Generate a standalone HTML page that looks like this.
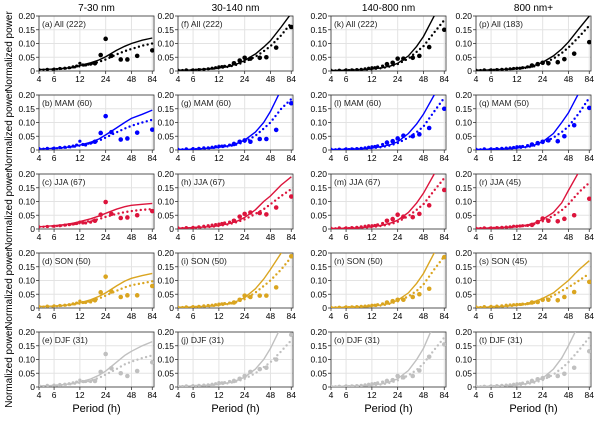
<!DOCTYPE html>
<html><head><meta charset="utf-8"><style>
body{margin:0;background:#fff;}
svg text{font-family:"Liberation Sans","DejaVu Sans",sans-serif;}
</style></head><body>
<svg id="chart" width="600" height="421" xmlns="http://www.w3.org/2000/svg"></svg>
<script>
const linePeriods=[4,6,8,10,12,16,20,24,32,40,48,64,84];
const scatterPeriods=[4,5,6,7,8,9,10,11,12,13,14,16,18,21,24,28,36,43,56,84];
const xTicks=[4,6,12,24,48,84];
const yTicks=[0,0.05,0.10,0.15,0.20];
const yTickLabels=["0","0.05","0.10","0.15","0.20"];
const colTitles=["7-30 nm","30-140 nm","140-800 nm","800 nm+"];
const seasons=["All","MAM","JJA","SON","DJF"];
const seasonColors=["#000000","#0000ff","#dc143c","#daa520","#c0c0c0"];
const panelCounts=[[222,60,67,50,31],[222,60,67,50,31],[222,60,67,50,31],[183,50,45,45,31]];
const c1Solid=[[.005,.007,.010,.014,.020,.030,.040,.052,.075,.090,.100,.112,.120],[.004,.006,.009,.013,.018,.028,.040,.055,.080,.100,.115,.130,.145],[.008,.012,.016,.021,.027,.037,.047,.057,.072,.081,.086,.090,.093],[.005,.007,.010,.014,.019,.030,.042,.055,.080,.098,.108,.118,.126],[.004,.006,.009,.013,.018,.029,.043,.058,.090,.115,.130,.150,.165]];
const c1Dotted=[[.004,.006,.009,.012,.017,.025,.033,.042,.060,.072,.080,.092,.100],[.004,.006,.008,.011,.016,.025,.034,.045,.064,.078,.088,.100,.110],[.007,.010,.013,.017,.021,.029,.036,.044,.055,.061,.065,.070,.072],[.004,.006,.009,.012,.016,.025,.034,.045,.062,.075,.083,.090,.097],[.003,.005,.008,.011,.015,.023,.033,.045,.065,.082,.092,.105,.115]];
const c1Scatter=[[.005,.006,.007,.009,.010,.012,.015,.018,.028,.022,.022,.025,.028,.058,.117,.055,.042,.042,.055,.075],[.005,.006,.007,.009,.010,.012,.014,.018,.032,.020,.018,.025,.030,.062,.123,.065,.038,.042,.063,.074],[.008,.009,.010,.012,.014,.016,.018,.020,.025,.022,.022,.025,.030,.052,.098,.055,.040,.042,.050,.065],[.006,.007,.008,.009,.010,.012,.015,.018,.025,.020,.020,.022,.028,.057,.114,.060,.040,.046,.046,.080],[.005,.006,.007,.009,.010,.012,.015,.018,.025,.020,.020,.020,.022,.055,.120,.068,.050,.040,.058,.090]];
const c2Solid=[[.003,.004,.006,.008,.011,.018,.027,.038,.062,.087,.110,.160,.210],[.002,.003,.005,.007,.010,.016,.025,.036,.065,.100,.140,.220,.30],[.003,.005,.007,.009,.012,.020,.030,.042,.070,.100,.120,.160,.190],[.003,.004,.006,.008,.010,.017,.026,.038,.070,.105,.140,.200,.25],[.003,.004,.005,.007,.010,.016,.025,.036,.065,.100,.140,.220,.30]];
const c2Dotted=[[.003,.004,.006,.008,.010,.016,.024,.033,.052,.072,.090,.130,.175],[.002,.003,.005,.007,.009,.014,.021,.030,.052,.078,.100,.150,.185],[.003,.004,.006,.008,.011,.018,.026,.035,.055,.072,.090,.120,.145],[.003,.004,.005,.007,.009,.015,.022,.032,.056,.080,.100,.140,.185],[.003,.004,.005,.007,.009,.014,.021,.030,.050,.072,.090,.130,.170]];
const c2Scatter=[[.003,.004,.004,.005,.006,.008,.010,.012,.015,.016,.017,.020,.028,.038,.048,.045,.048,.050,.085,.160],[.003,.004,.005,.006,.008,.008,.010,.012,.014,.014,.015,.018,.022,.030,.035,.030,.040,.040,.073,.170],[.004,.005,.006,.008,.010,.012,.014,.016,.018,.020,.022,.025,.030,.045,.055,.060,.058,.053,.078,.118],[.003,.004,.005,.006,.008,.009,.010,.012,.014,.015,.016,.018,.020,.030,.045,.040,.045,.045,.075,.188],[.003,.004,.005,.006,.007,.008,.010,.012,.016,.015,.016,.020,.022,.030,.040,.055,.065,.070,.100,.190]];
const c3Solid=[[.002,.003,.004,.005,.007,.012,.019,.028,.055,.090,.125,.200,.28],[.002,.003,.004,.005,.007,.013,.020,.030,.060,.095,.130,.200,.28],[.002,.003,.004,.006,.008,.014,.022,.032,.060,.095,.130,.200,.28],[.002,.003,.004,.005,.007,.012,.018,.028,.055,.090,.125,.200,.28],[.002,.003,.004,.005,.007,.012,.020,.030,.060,.100,.140,.230,.30]];
const c3Dotted=[[.002,.003,.004,.005,.006,.011,.017,.025,.045,.070,.090,.140,.185],[.002,.003,.004,.005,.006,.011,.017,.025,.045,.065,.085,.140,.190],[.002,.003,.004,.005,.007,.012,.018,.026,.047,.070,.090,.140,.185],[.002,.003,.004,.005,.006,.010,.016,.024,.042,.062,.085,.140,.188],[.002,.003,.004,.005,.006,.010,.016,.024,.042,.062,.085,.135,.180]];
const c3Scatter=[[.003,.003,.004,.004,.005,.006,.008,.010,.012,.012,.014,.018,.025,.030,.045,.045,.048,.055,.087,.150],[.003,.003,.004,.004,.005,.006,.008,.010,.012,.013,.015,.020,.027,.032,.042,.052,.050,.057,.080,.150],[.003,.004,.004,.005,.006,.008,.010,.012,.012,.013,.015,.020,.030,.036,.052,.045,.043,.055,.086,.142],[.003,.003,.004,.004,.005,.006,.007,.008,.010,.010,.012,.015,.020,.025,.030,.030,.040,.050,.070,.185],[.003,.003,.004,.004,.005,.006,.008,.010,.012,.013,.015,.018,.022,.025,.040,.035,.040,.060,.110,.155]];
const c4Solid=[[.003,.004,.005,.007,.009,.015,.022,.032,.055,.080,.105,.155,.200],[.002,.003,.004,.005,.007,.012,.020,.030,.060,.100,.135,.210,.28],[.003,.004,.005,.007,.009,.015,.023,.035,.060,.095,.140,.210,.28],[.003,.004,.006,.008,.010,.017,.025,.035,.055,.080,.100,.140,.172],[.002,.003,.004,.005,.007,.013,.021,.032,.065,.105,.150,.230,.30]];
const c4Dotted=[[.003,.004,.005,.006,.008,.012,.018,.026,.045,.065,.085,.125,.165],[.002,.003,.004,.005,.006,.011,.017,.025,.045,.065,.085,.135,.190],[.003,.004,.005,.006,.008,.013,.019,.028,.048,.068,.090,.135,.168],[.003,.004,.005,.007,.009,.014,.020,.028,.045,.062,.075,.100,.125],[.002,.003,.004,.005,.006,.011,.017,.025,.045,.068,.090,.135,.180]];
const c4Scatter=[[.003,.004,.004,.005,.006,.007,.008,.009,.010,.010,.012,.015,.020,.025,.030,.028,.032,.043,.063,.105],[.003,.004,.004,.005,.006,.007,.008,.009,.012,.012,.013,.016,.020,.025,.030,.035,.032,.050,.090,.153],[.003,.004,.004,.005,.006,.007,.008,.010,.010,.011,.012,.013,.015,.025,.038,.030,.028,.037,.050,.110],[.004,.005,.006,.007,.008,.010,.011,.012,.013,.013,.014,.016,.020,.022,.030,.030,.028,.040,.058,.095],[.003,.003,.004,.005,.006,.007,.008,.010,.012,.012,.014,.018,.022,.028,.032,.040,.040,.048,.070,.130]];

const solidByCol=[c1Solid,c2Solid,c3Solid,c4Solid];
const dottedByCol=[c1Dotted,c2Dotted,c3Dotted,c4Dotted];
const scatterByCol=[c1Scatter,c2Scatter,c3Scatter,c4Scatter];

const svg=document.getElementById('chart');
const NS='http://www.w3.org/2000/svg';
const colLeft=[39,178,331,476], W=115, H=55, rowTop=16, rowStep=79;
const xMin=4,xMax=88;
function mk(tag,attrs,parent){const e=document.createElementNS(NS,tag);for(const k in attrs)e.setAttribute(k,attrs[k]);(parent||svg).appendChild(e);return e;}
function xs(c,p){return colLeft[c]+W*Math.log(p/xMin)/Math.log(xMax/xMin);}
function ys(r,v){return rowTop+r*rowStep+H-H*v/0.2;}
const letters="abcdefghijklmnopqrst";
const defs=mk('defs',{});
for(let c=0;c<4;c++){
  const t=mk('text',{x:colLeft[c]+W/2,y:11,'text-anchor':'middle','font-size':10});
  t.textContent=colTitles[c];
  
  
  const xl=mk('text',{x:colLeft[c]+W/2,y:412,'text-anchor':'middle','font-size':11});
  xl.textContent='Period (h)';
  
  
  for(let r=0;r<5;r++){
    const top=rowTop+r*rowStep, L=colLeft[c];
    const cp=mk('clipPath',{id:'cp'+c+'_'+r},defs);
    mk('rect',{x:L,y:top,width:W,height:H},cp);
    const g=mk('g',{});
    
    
    for(const v of yTicks){mk('line',{x1:L,x2:L+W,y1:ys(r,v),y2:ys(r,v),stroke:'#e3e3e3','stroke-width':1},g);}
    for(const p of xTicks){mk('line',{x1:xs(c,p),x2:xs(c,p),y1:top,y2:top+H,stroke:'#e3e3e3','stroke-width':1},g);}
    const frame=mk('rect',{x:L,y:top,width:W,height:H,fill:'none',stroke:'#333','stroke-width':0.8},g);
    
    
    yTicks.forEach((v,i)=>{
      mk('line',{x1:L-3,x2:L,y1:ys(r,v),y2:ys(r,v),stroke:'#333','stroke-width':0.8},g);
      const tl=mk('text',{x:L-4,y:ys(r,v)+3,'text-anchor':'end','font-size':8.5},g);
      tl.textContent=yTickLabels[i];
      
      
    });
    xTicks.forEach(p=>{
      mk('line',{x1:xs(c,p),x2:xs(c,p),y1:top+H,y2:top+H+3,stroke:'#333','stroke-width':0.8},g);
      const tl=mk('text',{x:xs(c,p),y:top+H+11,'text-anchor':'middle','font-size':8.5},g);
      tl.textContent=String(p);
      
      
    });
    const lab=mk('text',{x:L+3,y:top+11,'font-size':8.5,fill:'#222'},g);
    lab.textContent='('+letters[c*5+r]+') '+seasons[r]+' ('+panelCounts[c][r]+')';
    
    
    const col=seasonColors[r];
    const pg=mk('g',{'clip-path':'url(#cp'+c+'_'+r+')'},g);
    const sp=solidByCol[c][r].map((v,i)=>xs(c,linePeriods[i]).toFixed(1)+','+ys(r,v).toFixed(1)).join(' ');
    const sl=mk('polyline',{points:sp,fill:'none',stroke:col,'stroke-width':1.4},pg);
    
    
    const dp=dottedByCol[c][r].map((v,i)=>xs(c,linePeriods[i]).toFixed(1)+','+ys(r,v).toFixed(1)).join(' ');
    const dl=mk('polyline',{points:dp,fill:'none',stroke:col,'stroke-width':2.4,'stroke-dasharray':'0 4.5','stroke-linecap':'round'},pg);
    
    
    scatterByCol[c][r].forEach((v,i)=>{
      const pt=mk('circle',{cx:xs(c,scatterPeriods[i]),cy:ys(r,v),r:scatterPeriods[i]>=18?2.3:1.6,fill:col},pg);
      
      
    });
  }
}
for(let r=0;r<5;r++){
  const cy=rowTop+r*rowStep+H/2+8;
  const t=mk('text',{x:0,y:0,'text-anchor':'middle','font-size':10,transform:'translate(12,'+cy+') rotate(-90)'});
  t.textContent='Normalized power';
  
  
}
</script>
</body></html>
